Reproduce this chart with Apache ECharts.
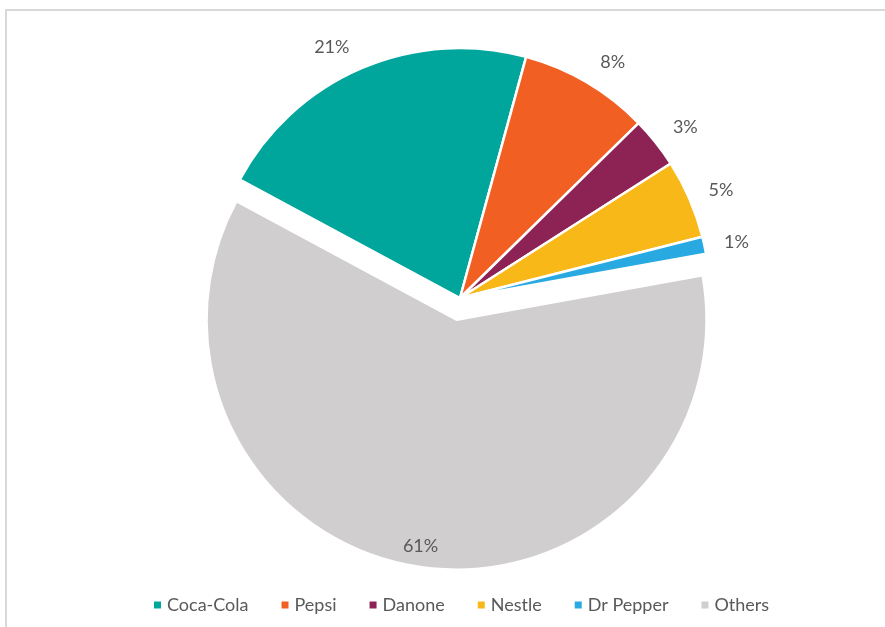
<!DOCTYPE html>
<html><head><meta charset="utf-8">
<script src="https://cdn.jsdelivr.net/npm/echarts@6/dist/echarts.min.js"></script>
<style>html,body{margin:0;padding:0;background:#fff}#c{width:885px;height:627px}</style>
</head><body><div id="c"></div>
<script>
const categories = ['Coca-Cola', 'Pepsi', 'Danone', 'Nestle', 'Dr Pepper', 'Others'];
const shares = [21.4, 8.4, 3.3, 5.1, 1.1, 60.7];
const colors = ['#00A69C', '#F15F22', '#8C2354', '#F8B818', '#28A9E1', '#D0CECE'];
const explodedName = 'Others';
// small upward nudge per label (style only)
const labelLift = [9, 9, 7, 4, 0, 0];

const chart = echarts.init(document.getElementById('c'), null, {renderer: 'canvas'});
const font = 'Lato, "Open Sans", sans-serif';
const textColor = '#595959';
const R = 250;
const C = [460, 298];
const pct = p => Math.round(p.percent) + '%';

const mainData = categories.map((n, i) => ({
  name: n, value: shares[i], selected: n === explodedName,
  itemStyle: {color: colors[i]},
  label: {show: n !== explodedName}
}));
const labelData = categories.map((n, i) => ({
  name: n, value: shares[i], selected: n === explodedName,
  itemStyle: {color: 'rgba(0,0,0,0)', borderWidth: 0},
  label: {show: n === explodedName}
}));

chart.setOption({
  animation: false,
  graphic: [{type: 'rect', shape: {x: 6, y: 10, width: 1000, height: 800}, style: {fill: 'none', stroke: '#D9D9D9', lineWidth: 2}, silent: true}],
  legend: {
    data: categories, bottom: 8, left: 147, icon: 'rect', itemWidth: 9, itemHeight: 9, itemGap: 31,
    textStyle: {color: textColor, fontFamily: font, fontSize: 18}
  },
  series: [{
    type: 'pie', center: C, radius: R, startAngle: 151.7, clockwise: true,
    selectedMode: 'single', selectedOffset: 22, avoidLabelOverlap: false,
    itemStyle: {borderColor: '#fff', borderWidth: 2.5},
    label: {position: 'outside', formatter: pct, color: textColor, fontFamily: font, fontSize: 18},
    labelLine: {show: false, length: 13, length2: 2},
    labelLayout: p => ({dy: -labelLift[p.dataIndex]}),
    emphasis: {disabled: true},
    data: mainData
  }, {
    type: 'pie', center: C, radius: [202, R], startAngle: 151.7, clockwise: true,
    selectedMode: 'single', selectedOffset: 22, silent: true,
    label: {position: 'inside', formatter: pct, color: textColor, fontFamily: font, fontSize: 18},
    labelLine: {show: false},
    emphasis: {disabled: true},
    data: labelData
  }]
});
</script></body></html>
